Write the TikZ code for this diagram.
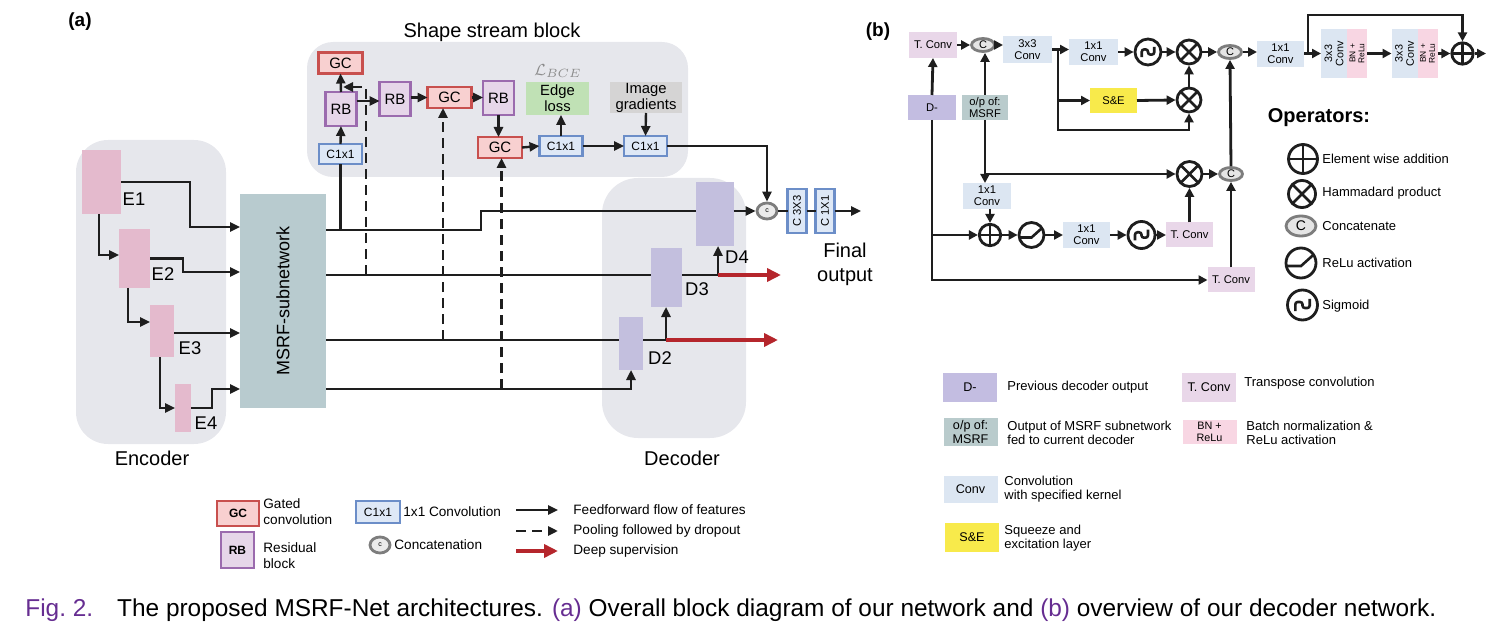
\documentclass[tikz,border=0pt]{standalone}
\usepackage{fontspec}
\setmainfont{Liberation Sans}
\usepackage{amsmath}
\usepackage{tikz}
\usetikzlibrary{positioning,arrows.meta,shapes.geometric,calc}

\definecolor{panelgray}{HTML}{E6E7EC}
\definecolor{encpink}{HTML}{E4BACD}
\definecolor{declav}{HTML}{C3BFDE}
\definecolor{msrfgray}{HTML}{B8CBCF}
\definecolor{gcfill}{HTML}{F8D0D0}
\definecolor{gcline}{HTML}{C8504E}
\definecolor{rbfill}{HTML}{E6D6E9}
\definecolor{rbline}{HTML}{9B6BAE}
\definecolor{cvfill}{HTML}{DEE8F6}
\definecolor{cvline}{HTML}{6C8EC8}
\definecolor{edgegreen}{HTML}{C0E1B5}
\definecolor{gradgray}{HTML}{D5D4D4}
\definecolor{dsred}{HTML}{B5262C}
\definecolor{convblue}{HTML}{DCE6F2}
\definecolor{tconvpink}{HTML}{E9D7E9}
\definecolor{dprev}{HTML}{C3BDE1}
\definecolor{msrfout}{HTML}{B9CBCC}
\definecolor{seyellow}{HTML}{F8EA4B}
\definecolor{bnpink}{HTML}{F8D6E3}
\definecolor{figpurple}{HTML}{662D91}
\definecolor{catgray}{HTML}{7D7D7D}
\definecolor{inkblack}{HTML}{1E1E1E}

\tikzset{
  >={Triangle[length=5pt,width=4.5pt]},
  flow/.style={line width=1.2pt, inkblack},
  pool/.style={line width=1.4pt, inkblack, dash pattern=on 5pt off 3pt},
  deepsup/.style={line width=2.3pt, dsred, -{Triangle[length=7pt,width=6.5pt]}},
  bline/.style={line width=1.4pt, inkblack},
  bflow/.style={bline, -{Triangle[length=4.5pt,width=4.5pt]}},
  blk/.style={inner sep=0pt, outer sep=0pt},
  enc/.style={blk, fill=encpink},
  dec/.style={blk, fill=declav},
  tag/.style={font=\fontsize{10}{12}\selectfont},
  dlabel/.style={font=\fontsize{9.2}{11}\selectfont},
  gc/.style={blk, draw=gcline, fill=gcfill, line width=1.2pt,
    minimum width=22pt, minimum height=10.5pt, font=\fontsize{7.5}{9}\selectfont},
  rb/.style={blk, draw=rbline, fill=rbfill, line width=1.2pt,
    minimum width=15.5pt, minimum height=17pt, font=\fontsize{7.5}{9}\selectfont},
  cv/.style={blk, draw=cvline, fill=cvfill, line width=1.2pt,
    minimum width=21.5pt, minimum height=10pt, font=\fontsize{6}{7}\selectfont},
  cat/.style={ellipse, draw=catgray, fill=black!8, line width=1.4pt, inner sep=0pt,
    minimum width=10pt, minimum height=8pt, font=\fontsize{3.5}{4}\selectfont},
  catb/.style={ellipse, draw=catgray, fill=black!10, line width=1.4pt, inner sep=0pt,
    minimum width=11.5pt, minimum height=6.5pt, font=\fontsize{5.5}{6}\selectfont},
  bbox/.style={blk, align=center, minimum width=24pt, minimum height=13pt,
    font=\fontsize{5.6}{6.2}\selectfont},
  legtext/.style={inner sep=0pt, anchor=west, align=left, font=\fontsize{6.8}{8}\selectfont},
  legb/.style={inner sep=0pt, anchor=west, align=left, font=\fontsize{6.5}{6.8}\selectfont},
  lbox/.style={blk, align=center, minimum width=27pt, minimum height=14.5pt,
    font=\fontsize{6.3}{6.8}\selectfont},
  opcirc/.style={circle, draw=inkblack, line width=1.4pt, inner sep=0pt, minimum size=#1},
  oplus/.style={opcirc=#1, path picture={
      \draw[line width=1.4pt, inkblack]
        (path picture bounding box.north) -- (path picture bounding box.south)
        (path picture bounding box.west) -- (path picture bounding box.east);}},
  otimes/.style={opcirc=#1, path picture={
      \draw[line width=1.4pt, inkblack]
        (path picture bounding box.north west) -- (path picture bounding box.south east)
        (path picture bounding box.south west) -- (path picture bounding box.north east);}},
  relu/.style={opcirc=#1, path picture={
      \draw[line width=1.3pt, inkblack]
        ($(path picture bounding box.center)+({-0.5*#1},{-0.1*#1})$)
        -- ++({0.5*#1},0pt) -- ++({0.5*#1},{0.45*#1});}},
  sigm/.style={opcirc=#1, path picture={
      \draw[line width=1.3pt, inkblack, rounded corners=1.2pt]
        ($(path picture bounding box.center)+({-0.24*#1},{-0.2*#1})$)
        -- ++(0pt,{0.3*#1}) -- ++({0.24*#1},0pt) -- ++(0pt,{-0.2*#1})
        -- ++({0.24*#1},0pt) -- ++(0pt,{0.3*#1});}},
}

\begin{document}
\begin{tikzpicture}[x=0.5pt,y=-0.5pt]
  \useasboundingbox (0,0) rectangle (1496,642);

  % ===== panel (a) =====
  \node[font=\bfseries\fontsize{9.5}{11}\selectfont] (taga) at (80,22) {(a)};

  % grey backdrops
  \fill[panelgray, rounded corners=13pt] (307,42) rectangle (688,177);
  \fill[panelgray, rounded corners=16pt] (76,140) rectangle (226,444);
  \fill[panelgray, rounded corners=18pt] (602,178) rectangle (746,438);
  \node[tag] (sstitle) at (492,32) {Shape stream block};
  \node[tag] (enclabel) at (152,458) {Encoder};
  \node[tag] (declabel) at (682,458) {Decoder};

  % encoder
  \node[enc, minimum width=19.5pt, minimum height=32pt] (E1) at (101.5,182) {};
  \node[enc, minimum width=15.5pt, minimum height=29.5pt] (E2) at (134.5,258.5) {};
  \node[enc, minimum width=12pt, minimum height=26pt] (E3) at (162,331) {};
  \node[enc, minimum width=8pt, minimum height=24pt] (E4) at (183,408) {};
  \node[dlabel] (E1lab) at (134,199) {E1};
  \node[dlabel] (E2lab) at (163,274) {E2};
  \node[dlabel] (E3lab) at (190,348) {E3};
  \node[dlabel] (E4lab) at (206,423) {E4};

  % MSRF-subnetwork
  \node[blk, fill=msrfgray, minimum width=43pt, minimum height=107pt] (msrf) at (283,301) {};
  \node[rotate=90, font=\fontsize{9}{10}\selectfont] (msrftxt) at (msrf.center) {MSRF-subnetwork};

  % decoder
  \node[dec, minimum width=19pt, minimum height=32pt] (D4) at (714.5,214) {};
  \node[dec, minimum width=15.5pt, minimum height=29.5pt] (D3) at (666.5,277.5) {};
  \node[dec, minimum width=12pt, minimum height=26.5pt] (D2) at (631,343.5) {};
  \node[dlabel] (D4lab) at (737,257) {D4};
  \node[dlabel] (D3lab) at (697,289) {D3};
  \node[dlabel] (D2lab) at (660,358) {D2};

  % shape stream
  \node[gc] (gc1) at (340.5,63) {GC};
  \node[rb] (rb1) at (341,109) {RB};
  \node[cv] (cv1) at (340.5,154) {C1x1};
  \node[rb] (rb2) at (395,99) {RB};
  \node[gc] (gc2) at (449.5,97.5) {GC};
  \node[rb] (rb3) at (498.5,98) {RB};
  \node[gc] (gc3) at (500,147.5) {GC};
  \node[cv] (cv2) at (561,146) {C1x1};
  \node[blk, fill=edgegreen, align=center, minimum width=31.5pt, minimum height=16.5pt,
        font=\fontsize{7.4}{8}\selectfont] (edge) at (557.5,98.5) {Edge\\loss};
  \node[text=black!45, font=\fontsize{8}{9}\selectfont] (lbce) at (558,71) {$\mathcal{L}_{BCE}$};
  \node[blk, fill=gradgray, align=center, minimum width=36pt, minimum height=15.5pt,
        font=\fontsize{7.4}{8}\selectfont] (imgg) at (646,97.5) {Image\\gradients};
  \node[cv] (cv3) at (645.5,146) {C1x1};

  % output head
  \node[cat] (cat) at (767,211) {c};
  \node[cv, minimum width=9.5pt, minimum height=22pt,
        label={[rotate=90, font=\fontsize{5.6}{6}\selectfont]center:C 3X3}] (c33) at (797,211) {};
  \node[cv, minimum width=9.5pt, minimum height=22pt,
        label={[rotate=90, font=\fontsize{5.6}{6}\selectfont]center:C 1X1}] (c11) at (825,211) {};
  \coordinate (fout) at (861,211);
  \node[tag, align=center] (final) at (845,264) {Final\\output};

  % encoder flow
  \draw[flow,->] (E1.east) -| (190,227) -- (msrf.west |- 0,227);
  \draw[flow,->] ([xshift=-1.25pt]E1.south) |- ([yshift=1.75pt]E2.west);
  \draw[flow,->] (E2.east) -| (183,272) -- (msrf.west |- 0,272);
  \draw[flow,->] ([xshift=-3.25pt]E2.south) |- ([yshift=4.5pt]E3.west);
  \draw[flow,->] (E3.east |- 0,333) -- (msrf.west |- 0,333);
  \draw[flow,->] ([xshift=-1pt]E3.south) |- (E4.west);
  \draw[flow,->] (E4.east) -| (212,389) -- (msrf.west |- 0,389);

  % msrf to decoder
  \coordinate (o1) at (481,230);
  \draw[flow] (msrf.east |- o1) -- (o1) |- (D4.west |- 0,211);
  \draw[flow] (msrf.east |- 0,275) -- (D3.west |- 0,275);
  \draw[flow] (msrf.east |- 0,340) -- (D2.west |- 0,340);
  \draw[flow,->] (msrf.east |- 0,389) -| (D2.south);
  \draw[flow] (cv1.south |- o1) -- (cv1.south);

  % decoder upward + deep supervision
  \coordinate (j2) at (666,340);
  \coordinate (j3) at (718,275);
  \coordinate (ds2) at (778,340);
  \coordinate (ds3) at (781,275);
  \draw[flow,->] (D2.east |- j2) -- (j2) -- (j2 |- D3.south);
  \draw[flow,->] (D3.east |- j3) -- (j3) -- (j3 |- D4.south);
  \draw[deepsup] (j2) -- (ds2);
  \draw[deepsup] (j3) -- (ds3);
  \draw[flow,->] (D4.east |- cat.west) -- (cat.west);
  \draw[flow] (cat.east) -- (c33.west);
  \draw[flow] (c33.east) -- (c11.west);
  \draw[flow,->] (c11.east) -- (fout);

  % shape stream links
  \draw[flow,->] (cv1.north) -- (rb1.south);
  \draw[flow,->] (rb1.north) -- (gc1.south);
  \draw[flow,->] (rb1.east |- 0,101) -- (rb2.west |- 0,101);
  \draw[flow,->] (rb2.east |- gc2.west) -- (gc2.west);
  \draw[flow,->] (gc2.east) -- (rb3.west |- gc2.east);
  \draw[flow,->] (rb3.south) -- (rb3.south |- gc3.north);
  \draw[flow,->] (gc3.east) -- (cv2.west);
  \draw[flow,->] (cv2.north) -- (cv2.north |- edge.south);
  \draw[flow,->] (cv2.east) -- (cv3.west);
  \draw[flow,->] (imgg.south) -- (cv3.north);
  \draw[flow,->] (cv3.east) -| (cat.north);

  % pooling + dropout
  \coordinate (p1) at (366,275);
  \coordinate (p2) at (443,340);
  \coordinate (p3) at (501.5,389);
  \coordinate (dropin) at (343,87);
  \draw[pool,->] (p1) |- (dropin);
  \draw[pool,->] (p2) -- (p2 |- gc2.south);
  \draw[pool,->] (p3) -- (p3 |- gc3.south);

  % legend (a)
  \node[gc, minimum width=21pt, minimum height=12.5pt, font=\bfseries\fontsize{6}{7}\selectfont] (lgc) at (238,513.5) {GC};
  \node[legtext] (lgctxt) at (263,512) {Gated\\convolution};
  \node[rb, minimum width=16.5pt, minimum height=18pt, font=\bfseries\fontsize{6}{7}\selectfont] (lrb) at (237.5,550) {RB};
  \node[legtext] (lrbtxt) at (263,556) {Residual\\block};
  \node[cv, minimum width=22pt, minimum height=11pt] (lcv) at (378,512) {C1x1};
  \node[legtext] (lcvtxt) at (403,512) {1x1 Convolution};
  \node[cat] (lcat) at (380,545) {c};
  \node[legtext] (lcattxt) at (394,545) {Concatenation};
  \coordinate (lfa) at (516,510); \coordinate (lfb) at (558,510);
  \coordinate (lpa) at (516,531); \coordinate (lpb) at (558,531);
  \coordinate (lda) at (516,551); \coordinate (ldb) at (558,551);
  \draw[flow,->] (lfa) -- (lfb);
  \draw[pool,->] (lpa) -- (lpb);
  \draw[deepsup] (lda) -- (ldb);
  \node[legtext] (lftxt) at (573,510) {Feedforward flow of features};
  \node[legtext] (lptxt) at (573,531) {Pooling followed by dropout};
  \node[legtext] (ldtxt) at (573,551) {Deep supervision};

  % ===== panel (b) =====
  \node[font=\bfseries\fontsize{9.5}{11}\selectfont] (tagb) at (878,32) {(b)};

  \node[bbox, fill=tconvpink] (tc1) at (933,45) {T. Conv};
  \node[catb] (cc1) at (983,45) {C};
  \node[bbox, fill=convblue, minimum width=24.5pt, minimum height=13.5pt] (cv33) at (1027.5,49.5) {3x3\\Conv};
  \node[bbox, fill=dprev, minimum height=12.5pt] (dm) at (932,107.5) {D-};
  \node[bbox, fill=msrfout, minimum width=23pt, minimum height=12.5pt] (mo) at (985,107.5) {o/p of:\\MSRF};
  \node[bbox, fill=convblue, minimum width=24.5pt] (cv11a) at (1093.5,52) {1x1\\Conv};
  \node[sigm=13pt] (sig1) at (1148,52) {};
  \node[bbox, fill=seyellow, minimum width=23.5pt, minimum height=12.5pt] (se) at (1113.5,100.5) {S\&E};
  \node[otimes=12pt] (ot1) at (1189,52) {};
  \node[otimes=12pt] (ot2) at (1189,100) {};
  \node[catb] (cc2) at (1230,52) {C};
  \node[bbox, fill=convblue, minimum width=23.5pt] (cv11b) at (1280.5,54) {1x1\\Conv};
  \node[blk, fill=convblue, minimum width=13pt, minimum height=24.5pt,
        label={[rotate=90, align=center, font=\fontsize{5.4}{5.6}\selectfont]center:3x3\\Conv}] (k1) at (1334,53.5) {};
  \node[blk, fill=bnpink, minimum width=10pt, minimum height=24.5pt,
        label={[rotate=90, align=center, font=\fontsize{4.2}{4.5}\selectfont]center:BN +\\ReLu}] (n1) at (1357,53.5) {};
  \node[blk, fill=convblue, minimum width=13pt, minimum height=24.5pt,
        label={[rotate=90, align=center, font=\fontsize{5.4}{5.6}\selectfont]center:3x3\\Conv}] (k2) at (1404.5,53.5) {};
  \node[blk, fill=bnpink, minimum width=10pt, minimum height=24.5pt,
        label={[rotate=90, align=center, font=\fontsize{4.2}{4.5}\selectfont]center:BN +\\ReLu}] (n2) at (1427.5,53.5) {};
  \node[oplus=10.7pt] (op1) at (1462.5,53.5) {};
  \coordinate (bout) at (1486,53.5);

  \node[bbox, fill=convblue] (cv11c) at (987,196) {1x1\\Conv};
  \node[oplus=10.7pt] (op2) at (990,235) {};
  \node[relu=12.5pt] (re1) at (1031.5,235) {};
  \node[bbox, fill=convblue, minimum width=23.5pt] (cv11d) at (1086.5,235) {1x1\\Conv};
  \node[sigm=13.5pt] (sig2) at (1141.5,235) {};
  \node[bbox, fill=tconvpink, minimum width=23.5pt, minimum height=12.5pt] (tc2) at (1189.5,235) {T. Conv};
  \node[otimes=12.5pt] (ot3) at (1189.5,174) {};
  \node[catb] (cc3) at (1231,174) {C};
  \node[bbox, fill=tconvpink, minimum width=23.5pt, minimum height=12.5pt] (tc3) at (1231,280) {T. Conv};

  % top path
  \draw[bflow] (dm.north) -- (tc1.south);
  \draw[bflow] (tc1.east) -- (cc1.west);
  \draw[bflow] (mo.north) -- (mo.north |- cc1.south);
  \draw[bflow] (cc1.east) -- (cv33.west |- cc1.east);
  \coordinate (br1) at (1058,49.5);
  \coordinate (br1low) at (1058,130);
  \draw[bline] (cv33.east |- br1) -- (br1);
  \draw[bflow] (br1) -- (cv11a.west |- br1);
  \draw[bflow] (br1) |- (se.west);
  \draw[bflow] (br1) -- (br1low) -| (ot2.south);
  \draw[bflow] (cv11a.east) -- (sig1.west);
  \draw[bflow] (sig1.east) -- (ot1.west);
  \draw[bflow] (se.east) -- (ot2.west);
  \draw[bflow] (ot2.north) -- (ot1.south);
  \draw[bflow] (ot1.east) -- (cc2.west);
  \draw[bflow] (cc2.east) -- (cv11b.west |- cc2.east);
  \coordinate (br2) at (1308,53.5);
  \coordinate (skip) at (1308,15);
  \draw[bline] (cv11b.east |- br2) -- (br2);
  \draw[bflow] (br2) -- (k1.west);
  \draw[bflow] (br2) -- (skip) -| (op1.north);
  \draw[bflow] (n1.east) -- (k2.west);
  \draw[bflow] (n2.east) -- (op1.west);
  \draw[bflow] (op1.east) -- (bout);

  % lower path
  \draw[bflow] (dm.south) |- (tc3.west);
  \draw[bflow] (dm.south |- op2.west) -- (op2.west);
  \draw[bflow] (mo.south) -- (mo.south |- cv11c.north);
  \draw[bflow] (mo.south |- ot3.west) -- (ot3.west);
  \draw[bflow] (op2.north |- cv11c.south) -- (op2.north);
  \draw[bflow] (op2.east) -- (re1.west);
  \draw[bflow] (re1.east) -- (cv11d.west);
  \draw[bflow] (cv11d.east) -- (sig2.west);
  \draw[bflow] (sig2.east) -- (tc2.west);
  \draw[bflow] (tc2.north) -- (ot3.south);
  \draw[bflow] (ot3.east) -- (cc3.west);
  \draw[bflow] (tc3.north) -- (cc3.south);
  \draw[bflow] (cc3.north) -- (cc2.south);

  % operators key
  \node[font=\bfseries\fontsize{10}{12}\selectfont] (opstitle) at (1319,118) {Operators:};
  \node[oplus=14.5pt] (kop) at (1303,159) {};
  \node[otimes=13.5pt] (kot) at (1302,194) {};
  \node[catb, minimum width=15pt, minimum height=10pt, font=\fontsize{7}{8}\selectfont] (kcat) at (1301,226) {C};
  \node[relu=15pt] (kre) at (1301,263) {};
  \node[sigm=15pt] (ksig) at (1302.5,305) {};
  \node[legb] (koptxt) at (1322,159) {Element wise addition};
  \node[legb] (kottxt) at (1322,193) {Hammadard product};
  \node[legb] (kcattxt) at (1322,226) {Concatenate};
  \node[legb] (kretxt) at (1322,263) {ReLu activation};
  \node[legb] (ksigtxt) at (1322,306) {Sigmoid};

  % legend (b)
  \node[lbox, fill=dprev] (ldm) at (970,387.5) {D-};
  \node[legb] (ldmtxt) at (1007,387) {Previous decoder output};
  \node[lbox, fill=msrfout, minimum height=14pt] (lmo) at (970.5,432) {o/p of:\\MSRF};
  \node[legb] (lmotxt) at (1007,433) {Output of MSRF subnetwork\\fed to current decoder};
  \node[lbox, fill=convblue, minimum height=13.5pt] (lconv) at (970.5,489.5) {Conv};
  \node[legb] (lconvtxt) at (1004,489) {Convolution\\with specified kernel};
  \node[lbox, fill=seyellow] (lse) at (972,537.5) {S\&E};
  \node[legb] (lsetxt) at (1004,538) {Squeeze and\\excitation layer};
  \node[lbox, fill=tconvpink] (ltc) at (1209,387.5) {T. Conv};
  \node[legb] (ltctxt) at (1244,383) {Transpose convolution};
  \node[lbox, fill=bnpink, minimum height=12pt, font=\fontsize{5.4}{5.8}\selectfont] (lbn) at (1209.5,432) {BN +\\ReLu};
  \node[legb] (lbntxt) at (1246,433) {Batch normalization \&\\ReLu activation};

  % caption
  \node[anchor=west, inner sep=0pt, font=\fontsize{12.2}{14}\selectfont] (caption) at (25,610)
    {\textcolor{figpurple}{Fig.~2.}\hspace{12pt}The proposed MSRF-Net architectures. \textcolor{figpurple}{(a)} Overall block diagram of our network and \textcolor{figpurple}{(b)} overview of our decoder network.};
\end{tikzpicture}
\end{document}
